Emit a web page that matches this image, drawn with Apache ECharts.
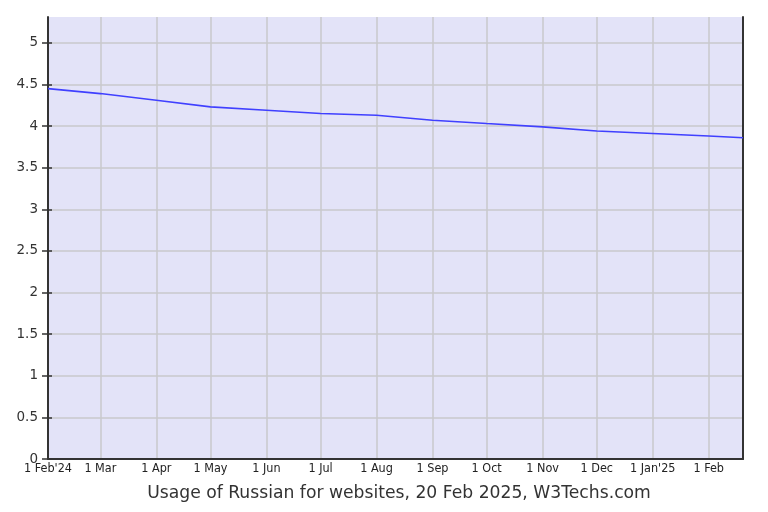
<!DOCTYPE html>
<html>
<head>
<meta charset="utf-8">
<script src="https://cdn.jsdelivr.net/npm/echarts@6/dist/echarts.min.js"></script>
<style>html,body{margin:0;padding:0;background:#fff}#c{width:768px;height:512px}</style>
</head>
<body>
<div id="c"></div>
<script>
const dates = ['2024-02-01','2024-03-01','2024-04-01','2024-05-01','2024-06-01','2024-07-01','2024-08-01','2024-09-01','2024-10-01','2024-11-01','2024-12-01','2025-01-01','2025-02-01','2025-02-20'];
const values = [4.45, 4.39, 4.31, 4.23, 4.19, 4.15, 4.13, 4.07, 4.03, 3.99, 3.94, 3.91, 3.88, 3.86];
const tickDates = ['2024-02-01','2024-03-01','2024-04-01','2024-05-01','2024-06-01','2024-07-01','2024-08-01','2024-09-01','2024-10-01','2024-11-01','2024-12-01','2025-01-01','2025-02-01'];
const tickLabels = ["1 Feb'24",'1 Mar','1 Apr','1 May','1 Jun','1 Jul','1 Aug','1 Sep','1 Oct','1 Nov','1 Dec',"1 Jan'25",'1 Feb'];
const yTicks = [0,0.5,1,1.5,2,2.5,3,3.5,4,4.5,5];
const title = 'Usage of Russian for websites, 20 Feb 2025, W3Techs.com';

const DAY = 86400000;
const ts = d => { const p = d.split('-').map(Number); return Date.UTC(p[0], p[1]-1, p[2]) / DAY; };
const tickTs = tickDates.map(ts);
const labelMap = {};
tickTs.forEach((t,i)=>{ labelMap[t] = tickLabels[i]; });

const chart = echarts.init(document.getElementById('c'));
chart.setOption({
  animation: false,
  textStyle: {fontFamily: 'DejaVu Sans'},
  grid: {left: 48, right: 25, top: 17, bottom: 53, show: true, backgroundColor: '#e3e3f8', borderWidth: 0},
  title: {text: title, left: 394, textAlign: 'center', top: 480, textStyle: {fontSize: 17.2, fontWeight: 'normal', color: '#333', fontFamily: 'DejaVu Sans'}},
  xAxis: {
    type: 'value', min: ts('2024-02-01'), max: ts('2025-02-20'),
    axisLine: {show: true, lineStyle: {color: '#333', width: 2}},
    axisTick: {show: false, customValues: tickTs},
    splitLine: {show: true, lineStyle: {color: '#c8c8cc', width: 1.5}},
    axisLabel: {customValues: tickTs, formatter: v => labelMap[v] || '', color: '#222', fontSize: 12.5, fontFamily: 'DejaVu Sans Condensed', margin: 3, hideOverlap: false}
  },
  yAxis: [{
    type: 'value', min: 0, max: 5.31, interval: 0.5,
    axisLine: {show: true, lineStyle: {color: '#333', width: 2}},
    axisTick: {show: true, length: 6, customValues: yTicks, lineStyle: {color: '#333', width: 1.5}},
    splitLine: {show: true, lineStyle: {color: '#c8c8cc', width: 1.5}},
    axisLabel: {customValues: yTicks, color: '#333', fontSize: 13.5, margin: 10, formatter: v => String(v)}
  },{
    type: 'value', min: 0, max: 5.31, position: 'right',
    axisLine: {show: true, lineStyle: {color: '#333', width: 2}},
    axisTick: {show: false}, axisLabel: {show: false}, splitLine: {show: false}
  },{
    type: 'value', min: 0, max: 5.31, position: 'left',
    axisLine: {show: false},
    axisTick: {show: true, inside: true, length: 4, customValues: yTicks, lineStyle: {color: '#333', width: 1.5}},
    axisLabel: {show: false}, splitLine: {show: false}
  }],
  series: [{
    type: 'line', showSymbol: false, symbol: 'none',
    data: dates.map((d,i)=>[ts(d), values[i]]),
    lineStyle: {color: '#4040ff', width: 1.6}
  }]
});
</script>
</body>
</html>
